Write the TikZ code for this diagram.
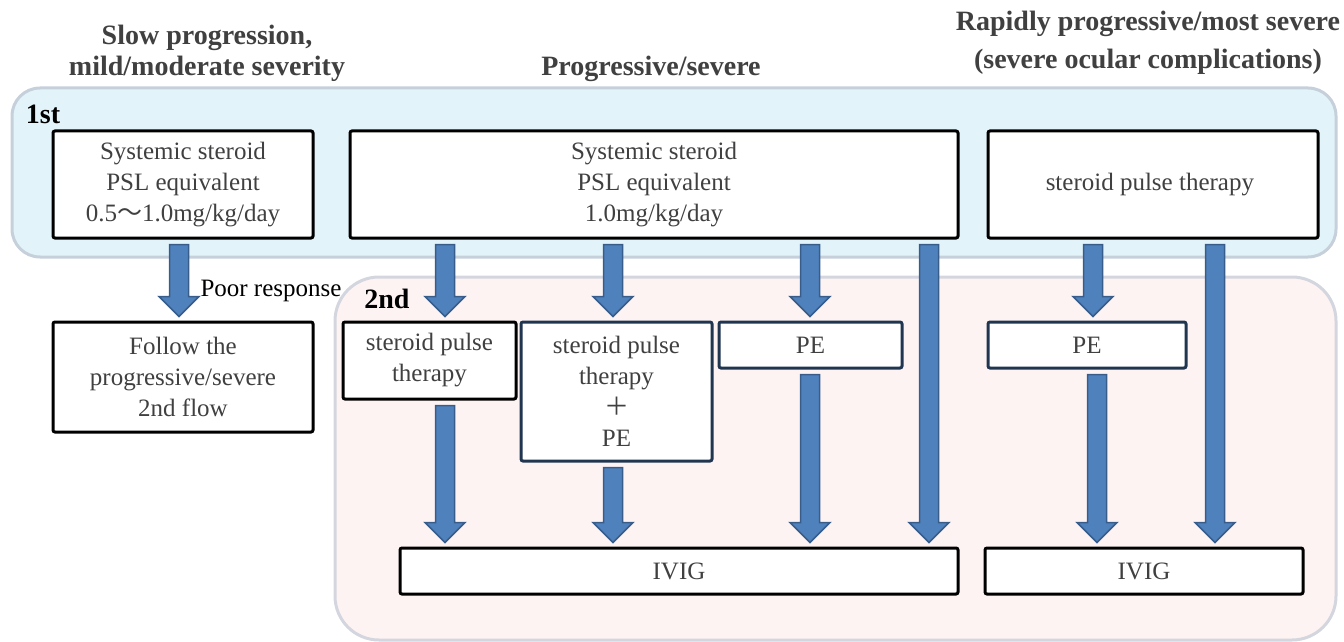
\documentclass[tikz,border=0pt]{standalone}
\usepackage{fontspec}
\setmainfont{Liberation Serif}
\newfontfamily\cjk{Noto Sans CJK JP}
\usepackage{xcolor}
\usepackage{tikz}
\usetikzlibrary{calc}

\definecolor{txtgray}{HTML}{404040}
\definecolor{firstfill}{HTML}{E2F3FA}
\definecolor{firstline}{HTML}{C5D0DB}
\definecolor{secondfill}{HTML}{FEF3F3}
\definecolor{secondline}{HTML}{D3D6DE}
\definecolor{navy}{HTML}{1F3550}
\definecolor{arrowfill}{HTML}{4F81BD}
\definecolor{arrowline}{HTML}{385D8A}

% block arrow at x = #1, from node #2 down to node #3
\newcommand{\blockarrow}[3]{%
  \path (#1,0 |- #2.south) ++(0,5) coordinate (ba-s)
        (#1,0 |- #3.north) ++(0,-4) coordinate (ba-e);
  \filldraw[barrow] ($(ba-s)+(-9.5,0)$) -- ($(ba-e)+(-9.5,-20)$) -- ($(ba-e)+(-20,-20)$)
    -- (ba-e) -- ($(ba-e)+(20,-20)$) -- ($(ba-e)+(9.5,-20)$) -- ($(ba-s)+(9.5,0)$) -- cycle;
}

\begin{document}
\begin{tikzpicture}[
    x=0.5pt, y=-0.5pt,
    box/.style={
        rectangle, rounded corners=1pt,
        draw=black, line width=1.5pt, fill=white,
        text=txtgray, align=center,
        font=\fontsize{12.5}{15.5}\selectfont,
        inner sep=0pt
    },
    navybox/.style={box, draw=navy},
    head/.style={
        align=center, text=txtgray, inner sep=0pt,
        font=\bfseries\fontsize{14}{15.5}\selectfont
    },
    stage/.style={
        inner sep=0pt, text=black,
        font=\bfseries\fontsize{14}{16}\selectfont
    },
    panel/.style={
        rectangle, line width=1.5pt, inner sep=0pt
    },
    barrow/.style={fill=arrowfill, draw=arrowline, line width=0.75pt, line join=miter}
]
\useasboundingbox (0,0) rectangle (1344,642);

% Panels
\node[panel, draw=firstline, fill=firstfill, rounded corners=14pt,
    minimum width=662pt, minimum height=84.5pt] (first) at (674,172.5) {};
\node[panel, draw=secondline, fill=secondfill, rounded corners=22pt,
    minimum width=500.5pt, minimum height=181.5pt] (second) at (835.5,458.5) {};
\node[stage] (firstlbl) at (43,114) {1st};
\node[stage] (secondlbl) at (387,299) {2nd};

% Column headers
\node[head] (slow) at (207,53) {Slow progression,\\mild/moderate severity};
\node[head] (prog) at (651,69) {Progressive/severe};
\node[head, font=\bfseries\fontsize{14}{19}\selectfont] (rapid) at (1148,43) {
    Rapidly progressive/most severe\\(severe ocular complications)
};

% 1st line
\node[box, minimum width=130pt, minimum height=53.5pt] (mild) at (183,184.5) {
    Systemic steroid\\
    PSL equivalent\\
    0.5{\cjk ～}1.0mg/kg/day
};
\node[box, minimum width=304pt, minimum height=53.5pt] (severe) at (654,184.5) {
    Systemic steroid\\
    PSL equivalent\\
    1.0mg/kg/day
};
\node[box, minimum width=165pt, minimum height=53.5pt] (pulseA) at (1153,184.5) {
    steroid pulse therapy
};

% Poor response branch
\node[box, minimum width=130pt, minimum height=55pt] (follow) at (183,377) {
    Follow the\\
    progressive/severe\\
    2nd flow
};
\node[inner sep=0pt, font=\fontsize{12.5}{15}\selectfont] (poor) at (271,291) {Poor response};

% 2nd line
\node[box, minimum width=86.5pt, minimum height=38.5pt] (pulseB) at (429.5,360.5) {
    steroid pulse\\
    therapy
};
\node[navybox, minimum width=95.5pt, minimum height=69.5pt] (combo) at (616.5,391.5) {
    steroid pulse\\
    therapy\\
    {\cjk ＋}\\
    PE
};
\node[navybox, minimum width=91.5pt, minimum height=23pt] (peB) at (810.5,345) {PE};
\node[navybox, minimum width=99pt, minimum height=23pt] (peC) at (1087,345) {PE};
\node[box, minimum width=279pt, minimum height=23pt] (ivigB) at (679,571) {IVIG};
\node[box, minimum width=159pt, minimum height=23pt] (ivigC) at (1144,571) {IVIG};

% Arrows
\blockarrow{179}{mild}{follow}
\blockarrow{445}{severe}{pulseB}
\blockarrow{613}{severe}{combo}
\blockarrow{810}{severe}{peB}
\blockarrow{929}{severe}{ivigB}
\blockarrow{1093}{pulseA}{peC}
\blockarrow{1215}{pulseA}{ivigC}
\blockarrow{445}{pulseB}{ivigB}
\blockarrow{613}{combo}{ivigB}
\blockarrow{810}{peB}{ivigB}
\blockarrow{1097}{peC}{ivigC}
\end{tikzpicture}
\end{document}
